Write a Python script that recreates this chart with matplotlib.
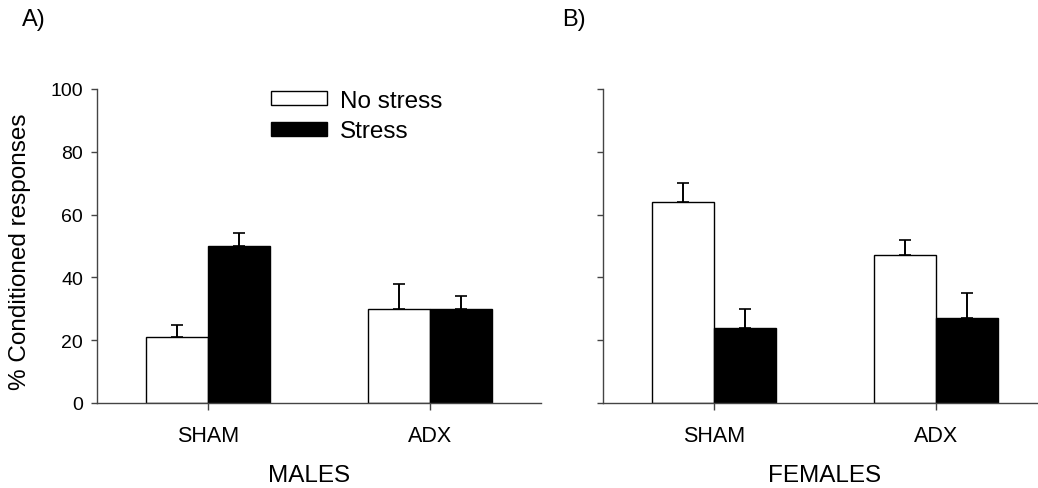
import matplotlib
matplotlib.use("Agg")
import matplotlib.pyplot as plt
import numpy as np
from matplotlib.patches import Patch

plt.rcParams['font.family'] = ['Liberation Sans', 'DejaVu Sans']

groups = ["SHAM", "ADX"]
series = ["No stress", "Stress"]

# males (panel A)
males_nostress = [21, 30]
males_nostress_err = [4, 8]
males_stress = [50, 30]
males_stress_err = [4, 4]

# females (panel B)
females_nostress = [64, 47]
females_nostress_err = [6, 5]
females_stress = [24, 27]
females_stress_err = [6, 8]

W, H = 1038, 489
fig = plt.figure(figsize=(W / 100, H / 100), dpi=100)

def px_axes(left, right, top, bottom):
    return fig.add_axes([left / W, 1 - bottom / H, (right - left) / W, (bottom - top) / H])

ax_a = px_axes(97, 541, 90, 404)
ax_b = px_axes(603, 1047, 90, 404)

bw = 0.28
x = np.arange(len(groups)) + 0.5
edge = '#444444'

def draw(ax, ns, ns_err, st, st_err, show_yticklabels):
    zero = np.zeros(len(groups))
    ax.bar(x - bw / 2, ns, bw, color='white', edgecolor='black', linewidth=1.0,
           yerr=[zero, ns_err], capsize=4,
           error_kw=dict(ecolor='black', elinewidth=1.4, capthick=1.2))
    ax.bar(x + bw / 2, st, bw, color='black', edgecolor='black', linewidth=1.0,
           yerr=[zero, st_err], capsize=4,
           error_kw=dict(ecolor='black', elinewidth=1.4, capthick=1.2))
    ax.set_xlim(0, 2)
    ax.set_ylim(0, 100)
    ax.set_yticks(np.arange(0, 101, 20))
    ax.set_xticks(x)
    ax.set_xticklabels(groups, fontsize=15.5)
    ax.tick_params(axis='y', labelsize=14, length=4, width=1, color=edge, pad=6)
    ax.tick_params(axis='x', length=5, width=1, color=edge, pad=11)
    if not show_yticklabels:
        ax.set_yticklabels([])
    for s in ['top', 'right']:
        ax.spines[s].set_visible(False)
    for s in ['left', 'bottom']:
        ax.spines[s].set_color(edge)
        ax.spines[s].set_linewidth(1)

draw(ax_a, males_nostress, males_nostress_err, males_stress, males_stress_err, True)
draw(ax_b, females_nostress, females_nostress_err, females_stress, females_stress_err, False)

# panel titles under the axes
fig.text(309 / W, 1 - 476 / H, "MALES", fontsize=17.5, ha='center', va='center')
fig.text(825 / W, 1 - 476 / H, "FEMALES", fontsize=17.5, ha='center', va='center')

fig.text(20 / W, 1 - 252 / H, "% Conditioned responses", fontsize=17.5,
         rotation=90, ha='center', va='center')

handles = [Patch(facecolor='white', edgecolor='black', linewidth=1.0),
           Patch(facecolor='black', edgecolor='black')]
ax_a.legend(handles, series, loc='upper left', bbox_to_anchor=(249 / W, 1 - 69 / H),
            bbox_transform=fig.transFigure, frameon=False, fontsize=17.5,
            handlelength=2.3, handleheight=0.5, handletextpad=0.55, labelspacing=0.35)

fig.text(22 / W, 1 - 20 / H, "A)", fontsize=17, va='center', ha='left')
fig.text(562 / W, 1 - 20 / H, "B)", fontsize=17, va='center', ha='left')

fig.savefig("out.png", dpi=100)
